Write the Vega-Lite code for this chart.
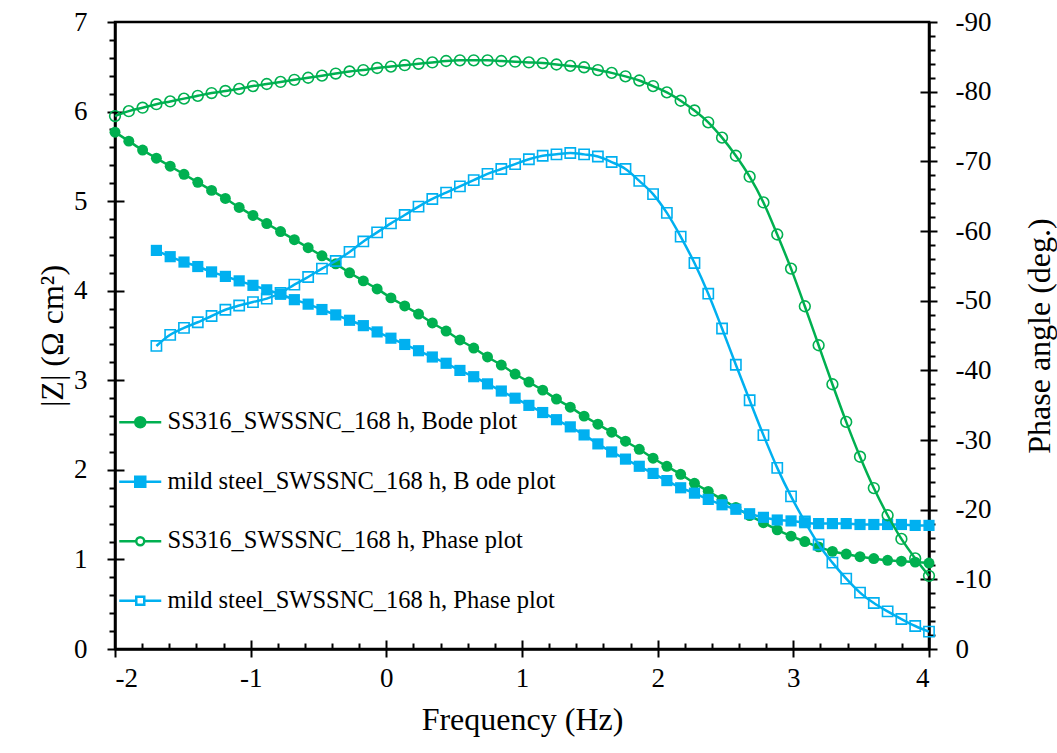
{
  "$schema": "https://vega.github.io/schema/vega-lite/v6.json",
  "width": 814,
  "height": 627,
  "autosize": "none",
  "padding": {"left": 115, "top": 22, "right": 128, "bottom": 104},
  "background": "white",
  "config": {
    "font": "Times New Roman",
    "view": {"stroke": "black", "strokeWidth": 2.5},
    "axis": {
      "labelFont": "Times New Roman",
      "titleFont": "Times New Roman",
      "labelColor": "black",
      "titleColor": "black",
      "domainColor": "black",
      "tickColor": "black",
      "grid": false,
      "titleFontWeight": "normal"
    }
  },
  "datasets": {
    "ssZ": [
      {"f": -2.0000, "v": 5.77}, {"f": -1.8983, "v": 5.67}, {"f": -1.7966, "v": 5.57}, {"f": -1.6949, "v": 5.48},
      {"f": -1.5932, "v": 5.39}, {"f": -1.4915, "v": 5.30}, {"f": -1.3898, "v": 5.21}, {"f": -1.2881, "v": 5.12},
      {"f": -1.1864, "v": 5.03}, {"f": -1.0847, "v": 4.93}, {"f": -0.9831, "v": 4.84}, {"f": -0.8814, "v": 4.75},
      {"f": -0.7797, "v": 4.66}, {"f": -0.6780, "v": 4.57}, {"f": -0.5763, "v": 4.48}, {"f": -0.4746, "v": 4.39},
      {"f": -0.3729, "v": 4.30}, {"f": -0.2712, "v": 4.20}, {"f": -0.1695, "v": 4.11}, {"f": -0.0678, "v": 4.02},
      {"f": 0.0339, "v": 3.92}, {"f": 0.1356, "v": 3.83}, {"f": 0.2373, "v": 3.74}, {"f": 0.3390, "v": 3.64},
      {"f": 0.4407, "v": 3.55}, {"f": 0.5424, "v": 3.45}, {"f": 0.6441, "v": 3.36}, {"f": 0.7458, "v": 3.26},
      {"f": 0.8475, "v": 3.17}, {"f": 0.9492, "v": 3.07}, {"f": 1.0508, "v": 2.98}, {"f": 1.1525, "v": 2.89},
      {"f": 1.2542, "v": 2.79}, {"f": 1.3559, "v": 2.70}, {"f": 1.4576, "v": 2.60}, {"f": 1.5593, "v": 2.51},
      {"f": 1.6610, "v": 2.42}, {"f": 1.7627, "v": 2.32}, {"f": 1.8644, "v": 2.23}, {"f": 1.9661, "v": 2.13},
      {"f": 2.0678, "v": 2.04}, {"f": 2.1695, "v": 1.95}, {"f": 2.2712, "v": 1.85}, {"f": 2.3729, "v": 1.76},
      {"f": 2.4746, "v": 1.67}, {"f": 2.5763, "v": 1.58}, {"f": 2.6780, "v": 1.49}, {"f": 2.7797, "v": 1.41},
      {"f": 2.8814, "v": 1.33}, {"f": 2.9831, "v": 1.26}, {"f": 3.0847, "v": 1.20}, {"f": 3.1864, "v": 1.14},
      {"f": 3.2881, "v": 1.09}, {"f": 3.3898, "v": 1.06}, {"f": 3.4915, "v": 1.03}, {"f": 3.5932, "v": 1.01},
      {"f": 3.6949, "v": 0.99}, {"f": 3.7966, "v": 0.98}, {"f": 3.8983, "v": 0.97}, {"f": 4.0000, "v": 0.96}
    ],
    "msZ": [
      {"f": -1.6949, "v": 4.45},
      {"f": -1.5932, "v": 4.38}, {"f": -1.4915, "v": 4.32}, {"f": -1.3898, "v": 4.27}, {"f": -1.2881, "v": 4.21},
      {"f": -1.1864, "v": 4.16}, {"f": -1.0847, "v": 4.11}, {"f": -0.9831, "v": 4.06}, {"f": -0.8814, "v": 4.01},
      {"f": -0.7797, "v": 3.96}, {"f": -0.6780, "v": 3.90}, {"f": -0.5763, "v": 3.85}, {"f": -0.4746, "v": 3.79},
      {"f": -0.3729, "v": 3.73}, {"f": -0.2712, "v": 3.67}, {"f": -0.1695, "v": 3.61}, {"f": -0.0678, "v": 3.54},
      {"f": 0.0339, "v": 3.47}, {"f": 0.1356, "v": 3.40}, {"f": 0.2373, "v": 3.33}, {"f": 0.3390, "v": 3.26},
      {"f": 0.4407, "v": 3.19}, {"f": 0.5424, "v": 3.11}, {"f": 0.6441, "v": 3.04}, {"f": 0.7458, "v": 2.96},
      {"f": 0.8475, "v": 2.88}, {"f": 0.9492, "v": 2.80}, {"f": 1.0508, "v": 2.72}, {"f": 1.1525, "v": 2.64},
      {"f": 1.2542, "v": 2.56}, {"f": 1.3559, "v": 2.48}, {"f": 1.4576, "v": 2.39}, {"f": 1.5593, "v": 2.29},
      {"f": 1.6610, "v": 2.20}, {"f": 1.7627, "v": 2.12}, {"f": 1.8644, "v": 2.04}, {"f": 1.9661, "v": 1.96},
      {"f": 2.0678, "v": 1.88}, {"f": 2.1695, "v": 1.80}, {"f": 2.2712, "v": 1.74}, {"f": 2.3729, "v": 1.67},
      {"f": 2.4746, "v": 1.61}, {"f": 2.5763, "v": 1.56}, {"f": 2.6780, "v": 1.51}, {"f": 2.7797, "v": 1.47},
      {"f": 2.8814, "v": 1.44}, {"f": 2.9831, "v": 1.43}, {"f": 3.0847, "v": 1.41}, {"f": 3.1864, "v": 1.40},
      {"f": 3.2881, "v": 1.40}, {"f": 3.3898, "v": 1.40}, {"f": 3.4915, "v": 1.39}, {"f": 3.5932, "v": 1.39},
      {"f": 3.6949, "v": 1.39}, {"f": 3.7966, "v": 1.39}, {"f": 3.8983, "v": 1.38}, {"f": 4.0000, "v": 1.38}
    ],
    "ssP": [
      {"f": -2.0000, "v": -76.5}, {"f": -1.8983, "v": -77.2}, {"f": -1.7966, "v": -77.7}, {"f": -1.6949, "v": -78.2},
      {"f": -1.5932, "v": -78.6}, {"f": -1.4915, "v": -79.0}, {"f": -1.3898, "v": -79.4}, {"f": -1.2881, "v": -79.8},
      {"f": -1.1864, "v": -80.1}, {"f": -1.0847, "v": -80.4}, {"f": -0.9831, "v": -80.8}, {"f": -0.8814, "v": -81.1},
      {"f": -0.7797, "v": -81.4}, {"f": -0.6780, "v": -81.7}, {"f": -0.5763, "v": -82.0}, {"f": -0.4746, "v": -82.3},
      {"f": -0.3729, "v": -82.6}, {"f": -0.2712, "v": -82.9}, {"f": -0.1695, "v": -83.1}, {"f": -0.0678, "v": -83.4},
      {"f": 0.0339, "v": -83.6}, {"f": 0.1356, "v": -83.8}, {"f": 0.2373, "v": -84.0}, {"f": 0.3390, "v": -84.2},
      {"f": 0.4407, "v": -84.4}, {"f": 0.5424, "v": -84.5}, {"f": 0.6441, "v": -84.5}, {"f": 0.7458, "v": -84.5},
      {"f": 0.8475, "v": -84.4}, {"f": 0.9492, "v": -84.3}, {"f": 1.0508, "v": -84.2}, {"f": 1.1525, "v": -84.1},
      {"f": 1.2542, "v": -83.9}, {"f": 1.3559, "v": -83.7}, {"f": 1.4576, "v": -83.5}, {"f": 1.5593, "v": -83.1},
      {"f": 1.6610, "v": -82.7}, {"f": 1.7627, "v": -82.2}, {"f": 1.8644, "v": -81.6}, {"f": 1.9661, "v": -80.8},
      {"f": 2.0678, "v": -79.9}, {"f": 2.1695, "v": -78.7}, {"f": 2.2712, "v": -77.3}, {"f": 2.3729, "v": -75.6},
      {"f": 2.4746, "v": -73.4}, {"f": 2.5763, "v": -70.8}, {"f": 2.6780, "v": -67.8}, {"f": 2.7797, "v": -64.1},
      {"f": 2.8814, "v": -59.5}, {"f": 2.9831, "v": -54.6}, {"f": 3.0847, "v": -49.2}, {"f": 3.1864, "v": -43.6},
      {"f": 3.2881, "v": -38.0}, {"f": 3.3898, "v": -32.6}, {"f": 3.4915, "v": -27.6}, {"f": 3.5932, "v": -23.1},
      {"f": 3.6949, "v": -19.2}, {"f": 3.7966, "v": -15.8}, {"f": 3.8983, "v": -13.0}, {"f": 4.0000, "v": -10.5}
    ],
    "msP": [
      {"f": -1.6949, "v": -43.5},
      {"f": -1.5932, "v": -45.1}, {"f": -1.4915, "v": -46.1}, {"f": -1.3898, "v": -46.9}, {"f": -1.2881, "v": -47.8},
      {"f": -1.1864, "v": -48.7}, {"f": -1.0847, "v": -49.3}, {"f": -0.9831, "v": -49.8}, {"f": -0.8814, "v": -50.3},
      {"f": -0.7797, "v": -51.1}, {"f": -0.6780, "v": -52.3}, {"f": -0.5763, "v": -53.4}, {"f": -0.4746, "v": -54.6},
      {"f": -0.3729, "v": -55.7}, {"f": -0.2712, "v": -57.0}, {"f": -0.1695, "v": -58.5}, {"f": -0.0678, "v": -59.8},
      {"f": 0.0339, "v": -61.1}, {"f": 0.1356, "v": -62.3}, {"f": 0.2373, "v": -63.5}, {"f": 0.3390, "v": -64.6},
      {"f": 0.4407, "v": -65.5}, {"f": 0.5424, "v": -66.4}, {"f": 0.6441, "v": -67.3}, {"f": 0.7458, "v": -68.2},
      {"f": 0.8475, "v": -68.9}, {"f": 0.9492, "v": -69.6}, {"f": 1.0508, "v": -70.3}, {"f": 1.1525, "v": -70.8},
      {"f": 1.2542, "v": -71.0}, {"f": 1.3559, "v": -71.2}, {"f": 1.4576, "v": -71.0}, {"f": 1.5593, "v": -70.7},
      {"f": 1.6610, "v": -69.9}, {"f": 1.7627, "v": -68.9}, {"f": 1.8644, "v": -67.2}, {"f": 1.9661, "v": -65.3},
      {"f": 2.0678, "v": -62.6}, {"f": 2.1695, "v": -59.2}, {"f": 2.2712, "v": -55.4}, {"f": 2.3729, "v": -51.0},
      {"f": 2.4746, "v": -46.0}, {"f": 2.5763, "v": -40.8}, {"f": 2.6780, "v": -35.7}, {"f": 2.7797, "v": -30.7},
      {"f": 2.8814, "v": -26.0}, {"f": 2.9831, "v": -21.9}, {"f": 3.0847, "v": -18.3}, {"f": 3.1864, "v": -15.0},
      {"f": 3.2881, "v": -12.4}, {"f": 3.3898, "v": -10.1}, {"f": 3.4915, "v": -8.1}, {"f": 3.5932, "v": -6.6},
      {"f": 3.6949, "v": -5.4}, {"f": 3.7966, "v": -4.3}, {"f": 3.8983, "v": -3.3}, {"f": 4.0000, "v": -2.5}
    ]
  },
  "resolve": {
    "scale": {"x": "independent", "y": "independent"},
    "axis": {"x": "independent", "y": "independent"}
  },
  "layer": [
    {
      "data": {"name": "ssZ"},
      "mark": {"type": "line", "color": "#00B050", "strokeWidth": 2.5, "interpolate": "monotone"},
      "encoding": {
        "x": {"field": "f", "type": "quantitative",
          "scale": {"domain": [-2, 4], "nice": false, "zero": false},
          "axis": {"orient": "bottom", "values": [-2, -1, 0, 1, 2, 3, 4], "labelExpr": "'' + datum.value",
            "tickSize": 8, "tickWidth": 2, "domain": true, "domainWidth": 2.5,
            "labelFontSize": 27, "labelPadding": 8, "title": "Frequency  (Hz)", "titleFontSize": 32, "titlePadding": 13}},
        "y": {"field": "v", "type": "quantitative",
          "scale": {"domain": [0, 7], "nice": false, "zero": false},
          "axis": {"orient": "left", "values": [0, 1, 2, 3, 4, 5, 6, 7], "labelExpr": "'' + datum.value",
            "tickSize": 8, "tickWidth": 2, "domain": true, "domainWidth": 2.5,
            "labelFontSize": 27, "labelPadding": 20, "title": "|Z| (Ω cm²)", "titleFontSize": 32, "titlePadding": 4}}
      }
    },
    {
      "data": {"name": "ssZ"},
      "mark": {"type": "point", "shape": "circle", "filled": true, "color": "#00B050", "size": 120, "opacity": 1},
      "encoding": {
        "x": {"field": "f", "type": "quantitative",
          "scale": {"domain": [-2, 4], "nice": false, "zero": false},
          "axis": {"orient": "bottom", "values": [-1.8, -1.6, -1.4, -1.2, -0.8, -0.6, -0.4, -0.2, 0.2, 0.4, 0.6, 0.8, 1.2, 1.4, 1.6, 1.8, 2.2, 2.4, 2.6, 2.8, 3.2, 3.4, 3.6, 3.8],
            "tickSize": -6, "tickWidth": 2, "domain": false, "labels": false, "title": null}},
        "y": {"field": "v", "type": "quantitative",
          "scale": {"domain": [0, 7], "nice": false, "zero": false},
          "axis": {"orient": "left", "values": [0.2, 0.4, 0.6, 0.8, 1.2, 1.4, 1.6, 1.8, 2.2, 2.4, 2.6, 2.8, 3.2, 3.4, 3.6, 3.8, 4.2, 4.4, 4.6, 4.8, 5.2, 5.4, 5.6, 5.8, 6.2, 6.4, 6.6, 6.8],
            "tickSize": 6, "tickWidth": 2, "domain": false, "labels": false, "title": null}}
      }
    },
    {
      "data": {"name": "msZ"},
      "mark": {"type": "line", "color": "#00B0F0", "strokeWidth": 2.5, "interpolate": "monotone"},
      "encoding": {
        "x": {"field": "f", "type": "quantitative",
          "scale": {"domain": [-2, 4], "nice": false, "zero": false},
          "axis": {"orient": "bottom", "values": [-1, 0, 1, 2, 3],
            "tickSize": -9, "tickWidth": 2, "domain": false, "labels": false, "title": null}},
        "y": {"field": "v", "type": "quantitative",
          "scale": {"domain": [0, 7], "nice": false, "zero": false},
          "axis": {"orient": "left", "values": [1, 2, 3, 4, 5, 6],
            "tickSize": -9, "tickWidth": 2, "domain": false, "labels": false, "title": null}}
      }
    },
    {
      "data": {"name": "msZ"},
      "mark": {"type": "point", "shape": "square", "filled": true, "color": "#00B0F0", "size": 125, "opacity": 1},
      "encoding": {
        "x": {"field": "f", "type": "quantitative", "scale": {"domain": [-2, 4], "nice": false, "zero": false}, "axis": null},
        "y": {"field": "v", "type": "quantitative", "scale": {"domain": [0, 7], "nice": false, "zero": false}, "axis": null}
      }
    },
    {
      "data": {"name": "ssP"},
      "mark": {"type": "line", "color": "#00B050", "strokeWidth": 2.5, "interpolate": "monotone"},
      "encoding": {
        "x": {"field": "f", "type": "quantitative", "scale": {"domain": [-2, 4], "nice": false, "zero": false}, "axis": null},
        "y": {"field": "v", "type": "quantitative",
          "scale": {"domain": [0, -90], "nice": false, "zero": false},
          "axis": {"orient": "right", "values": [0, -10, -20, -30, -40, -50, -60, -70, -80, -90], "labelExpr": "'' + datum.value",
            "tickSize": 8, "tickWidth": 2, "domain": true, "domainWidth": 2.5,
            "labelFontSize": 27, "labelPadding": 18, "title": "Phase angle (deg.)", "titleFontSize": 32, "titlePadding": 34,
            "titleAngle": 270, "titleBaseline": "top"}}
      }
    },
    {
      "data": {"name": "ssP"},
      "mark": {"type": "point", "shape": "circle", "filled": false, "color": "#00B050", "size": 115, "strokeWidth": 1.6, "opacity": 1},
      "encoding": {
        "x": {"field": "f", "type": "quantitative", "scale": {"domain": [-2, 4], "nice": false, "zero": false}, "axis": null},
        "y": {"field": "v", "type": "quantitative",
          "scale": {"domain": [0, -90], "nice": false, "zero": false},
          "axis": {"orient": "right", "values": [-2, -4, -6, -8, -12, -14, -16, -18, -22, -24, -26, -28, -32, -34, -36, -38, -42, -44, -46, -48, -52, -54, -56, -58, -62, -64, -66, -68, -72, -74, -76, -78, -82, -84, -86, -88],
            "tickSize": 6, "tickWidth": 2, "domain": false, "labels": false, "title": null}}
      }
    },
    {
      "data": {"name": "msP"},
      "mark": {"type": "line", "color": "#00B0F0", "strokeWidth": 2.5, "interpolate": "monotone"},
      "encoding": {
        "x": {"field": "f", "type": "quantitative", "scale": {"domain": [-2, 4], "nice": false, "zero": false}, "axis": null},
        "y": {"field": "v", "type": "quantitative",
          "scale": {"domain": [0, -90], "nice": false, "zero": false},
          "axis": {"orient": "right", "values": [-10, -20, -30, -40, -50, -60, -70, -80],
            "tickSize": -9, "tickWidth": 2, "domain": false, "labels": false, "title": null}}
      }
    },
    {
      "data": {"name": "msP"},
      "mark": {"type": "point", "shape": "square", "filled": false, "color": "#00B0F0", "size": 105, "strokeWidth": 1.6, "opacity": 1},
      "encoding": {
        "x": {"field": "f", "type": "quantitative", "scale": {"domain": [-2, 4], "nice": false, "zero": false}, "axis": null},
        "y": {"field": "v", "type": "quantitative", "scale": {"domain": [0, -90], "nice": false, "zero": false}, "axis": null}
      }
    },
    {
      "data": {"name": "ssZ"},
      "transform": [{"filter": "false"}],
      "mark": {"type": "point", "filled": true, "opacity": 1, "strokeWidth": 2.5},
      "encoding": {
        "x": {"field": "f", "type": "quantitative", "scale": {"domain": [-2, 4], "nice": false, "zero": false}, "axis": null},
        "y": {"field": "v", "type": "quantitative", "scale": {"domain": [0, 7], "nice": false, "zero": false}, "axis": null},
        "shape": {"field": "series", "type": "nominal",
          "scale": {"domain": ["SS316_SWSSNC_168 h, Bode plot", "mild steel_SWSSNC_168 h, B ode plot", "SS316_SWSSNC_168 h, Phase plot", "mild steel_SWSSNC_168 h, Phase plot"],
            "range": [
              "M-4.2,0L4.2,0M1,0A1,1,0,1,1,-1,0A1,1,0,1,1,1,0Z",
              "M-4.2,0L4.2,0M-1,-1L1,-1L1,1L-1,1Z",
              "M-4.2,0L-0.8,0M0.8,0L4.2,0M0.8,0A0.8,0.8,0,1,1,-0.8,0A0.8,0.8,0,1,1,0.8,0Z",
              "M-4.2,0L-0.8,0M0.8,0L4.2,0M-0.8,-0.8L0.8,-0.8L0.8,0.8L-0.8,0.8Z"
            ]},
          "legend": {"title": null, "orient": "none", "legendX": 13, "legendY": 388, "padding": 0,
            "symbolSize": 100, "symbolStrokeWidth": 2.5, "labelFont": "Times New Roman, Times, serif", "labelFontSize": 24.5, "labelOffset": 15,
            "rowPadding": 34.5, "labelColor": "black", "labelLimit": 500}},
        "fill": {"field": "series", "type": "nominal",
          "scale": {"domain": ["SS316_SWSSNC_168 h, Bode plot", "mild steel_SWSSNC_168 h, B ode plot", "SS316_SWSSNC_168 h, Phase plot", "mild steel_SWSSNC_168 h, Phase plot"],
            "range": ["#00B050", "#00B0F0", "white", "white"]},
          "legend": {"title": null, "orient": "none", "legendX": 13, "legendY": 388, "padding": 0,
            "symbolSize": 100, "symbolStrokeWidth": 2.5, "labelFont": "Times New Roman, Times, serif", "labelFontSize": 24.5, "labelOffset": 15,
            "rowPadding": 34.5, "labelColor": "black", "labelLimit": 500}},
        "stroke": {"field": "series", "type": "nominal",
          "scale": {"domain": ["SS316_SWSSNC_168 h, Bode plot", "mild steel_SWSSNC_168 h, B ode plot", "SS316_SWSSNC_168 h, Phase plot", "mild steel_SWSSNC_168 h, Phase plot"],
            "range": ["#00B050", "#00B0F0", "#00B050", "#00B0F0"]},
          "legend": {"title": null, "orient": "none", "legendX": 13, "legendY": 388, "padding": 0,
            "symbolSize": 100, "symbolStrokeWidth": 2.5, "labelFont": "Times New Roman, Times, serif", "labelFontSize": 24.5, "labelOffset": 15,
            "rowPadding": 34.5, "labelColor": "black", "labelLimit": 500}}
      }
    }
  ]
}
